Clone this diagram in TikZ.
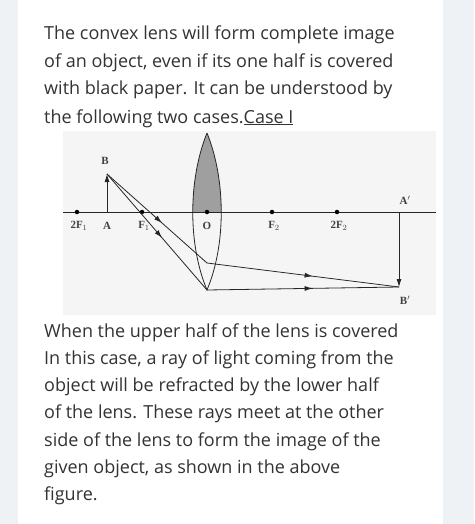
\documentclass[tikz,border=0pt]{standalone}
\usepackage{fontspec}
\setmainfont{Open Sans}
\newfontfamily\figfont{Liberation Serif}
\usetikzlibrary{arrows.meta,decorations.markings}
\definecolor{pagebg}{HTML}{EEF2F5}
\definecolor{txt}{HTML}{333333}
\definecolor{figbg}{HTML}{F5F5F5}
\begin{document}
\begin{tikzpicture}[x=1pt,y=-1pt,
    para/.style={anchor=base west,inner sep=0pt,text=txt,font=\fontsize{18}{20}\selectfont},
    lbl/.style={font=\figfont\fontsize{11}{12}\selectfont\bfseries,text=black!75,inner sep=1pt},
    pt/.style={circle,fill=black,inner sep=0pt,minimum size=4.5pt},
    ray/.style={thick,black!85,postaction={decorate},decoration={markings,mark=at position 0.55 with {\arrow{Latex[length=8pt,width=5pt]}}}}]
  \fill[pagebg] (0,0) rectangle (474,524);
  \fill[white] (18,0) rectangle (443,524);
  \useasboundingbox (0,0) rectangle (474,524);
  % text above
  \node[para] (t1) at (44,40) {The convex lens will form complete image};
  \node[para] (t2) at (44,68) {of an object, even if its one half is covered};
  \node[para] (t3) at (44,95) {with black paper. It can be understood by};
  \node[para] (t4) at (44,123) {the following two cases.\underline{Case I}};
  % figure
  \fill[figbg] (63,131) rectangle (436,315);
  \begin{scope}
    \clip (150,130) rectangle (260,212);
    \fill[gray!75] (207,133) .. controls (226,180) and (226,245) .. (207,290)
      .. controls (188,245) and (188,180) .. (207,133);
  \end{scope}
  \draw[thick,black!85] (207,133) .. controls (226,180) and (226,245) .. (207,290)
      .. controls (188,245) and (188,180) .. (207,133);
  \draw[thick,black!85] (63,212) -- (436,212);
  \node[pt] (f2a) at (77,212) {};
  \node[pt] (f1) at (142,212) {};
  \node[pt] (o) at (207,212) {};
  \node[pt] (f2) at (272,212) {};
  \node[pt] (f2b) at (337,212) {};
  \coordinate (a) at (107,212);
  \coordinate (b) at (107,174);
  \coordinate (ap) at (399,212);
  \coordinate (bp) at (399,287);
  \coordinate (p) at (207,263);
  \coordinate (q) at (207,290);
  \draw[thick,black!85,-{Latex[length=8pt,width=5pt]}] (a) -- (b);
  \draw[thick,black!85,-{Latex[length=8pt,width=5pt]}] (ap) -- (bp);
  \draw[ray] (b) -- (p);
  \draw[ray] (p) -- (bp);
  \draw[ray] (b) -- (q);
  \draw[ray] (q) -- (bp);
  \node[lbl] at (105,161) {B};
  \node[lbl] at (79,226) {2F$_1$};
  \node[lbl] at (107,226) {A};
  \node[lbl] at (144,226) {F$_1$};
  \node[lbl] at (207,226) {O};
  \node[lbl] at (274,226) {F$_2$};
  \node[lbl] at (339,226) {2F$_2$};
  \node[lbl] at (405,200) {A$'$};
  \node[lbl] at (405,300) {B$'$};
  % text below
  \node[para] (u1) at (44,337) {When the upper half of the lens is covered};
  \node[para] (u2) at (44,364) {In this case, a ray of light coming from the};
  \node[para] (u3) at (44,391) {object will be refracted by the lower half};
  \node[para] (u4) at (44,418) {of the lens. These rays meet at the other};
  \node[para] (u5) at (44,446) {side of the lens to form the image of the};
  \node[para] (u6) at (44,473) {given object, as shown in the above};
  \node[para] (u7) at (44,500) {figure.};
\end{tikzpicture}
\end{document}
